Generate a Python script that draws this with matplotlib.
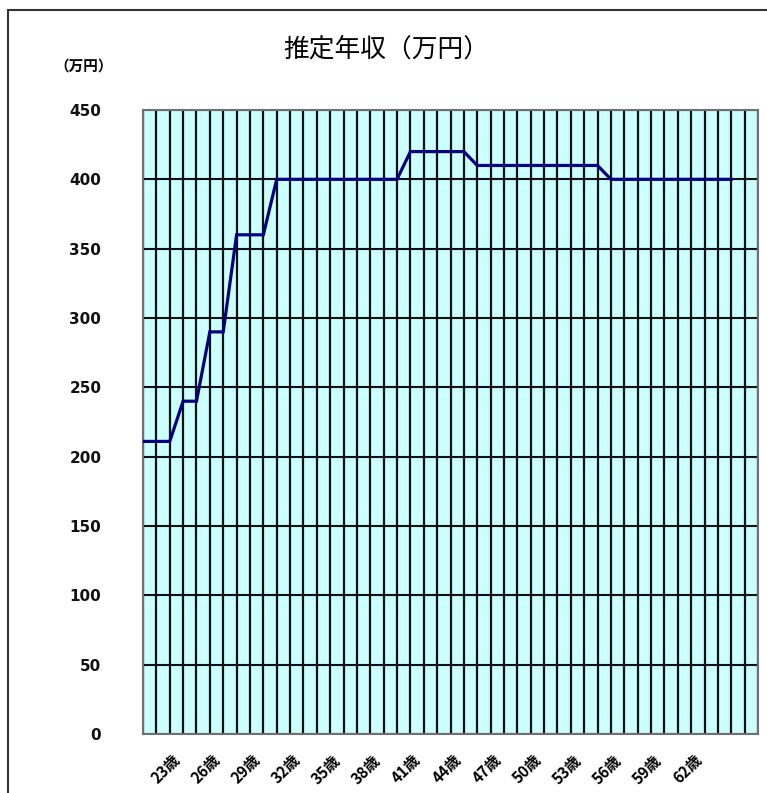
#!/usr/bin/env python3
"""Estimated annual income by age (step-like line on a cyan grid)."""

import matplotlib
matplotlib.use("Agg")
import matplotlib.pyplot as plt
from matplotlib.patches import Rectangle
from matplotlib.transforms import ScaledTranslation


# ages 20..64, one point per year
ages = list(range(20, 65))
income = [
    211, 211, 211,
    240, 240,
    290, 290,
    360, 360, 360,
    400, 400, 400, 400, 400, 400, 400, 400, 400, 400,
    420, 420, 420, 420, 420,
    410, 410, 410, 410, 410, 410, 410, 410, 410, 410,
    400, 400, 400, 400, 400, 400, 400, 400, 400, 400,
]
label_ages = list(range(23, 63, 3))
y_ticks = list(range(0, 451, 50))

TITLE = "推定年収（万円）"
UNIT = "（万円）"
CJK = ["Noto Sans CJK JP", "DejaVu Sans"]


def main() -> None:
    fig = plt.figure(figsize=(7.67, 7.93), dpi=100)
    W, H = 767, 793
    ax = fig.add_axes([143 / W, 59 / H, 615 / W, 624 / H])

    x = [a - ages[0] for a in ages]
    ax.set_facecolor("#ccffff")
    ax.plot(x, income, color="#000080", linewidth=2.3, zorder=3,
            solid_joinstyle="miter")

    n_slots = len(ages) + 1
    ax.set_xlim(0, n_slots)
    ax.set_ylim(0, 450)

    ax.set_xticks(range(n_slots + 1), minor=True)
    ax.set_xticks([a - ages[0] for a in label_ages])
    ax.set_xticklabels([f"{a}歳" for a in label_ages], rotation=45,
                       ha="right", va="top", rotation_mode="anchor",
                       fontsize=11, fontweight="bold", family=CJK)
    ax.set_yticks(y_ticks)
    ax.set_yticklabels([str(v) for v in y_ticks], fontsize=11,
                       fontweight="bold", color="#111111")

    ax.tick_params(axis="both", which="both", length=0)
    ax.tick_params(axis="y", pad=30)
    ax.tick_params(axis="x", pad=13)
    shift = ScaledTranslation(-8 / 72, 0, fig.dpi_scale_trans)
    for lab in ax.get_xticklabels():
        lab.set_transform(lab.get_transform() + shift)

    ax.grid(True, axis="x", which="both", color="#111111", linewidth=1.6)
    ax.grid(True, axis="y", which="major", color="#111111", linewidth=1.5)
    ax.set_axisbelow(True)
    for spine in ax.spines.values():
        spine.set_color("#707070")
        spine.set_linewidth(1.5)

    fig.text(386 / W, 1 - 50 / H, TITLE, ha="center", va="center",
             fontsize=18.5, family=CJK)
    fig.text(84 / W, 1 - 66 / H, UNIT, ha="center", va="center",
             fontsize=10.5, fontweight="bold", family=CJK)

    fig.add_artist(Rectangle((8 / W, -0.1), 1.2, 1 - 10 / H + 0.1,
                             transform=fig.transFigure, fill=False,
                             edgecolor="#333333", linewidth=1.5))

    fig.savefig("out.png", dpi=100)
    plt.close(fig)


if __name__ == "__main__":
    main()
